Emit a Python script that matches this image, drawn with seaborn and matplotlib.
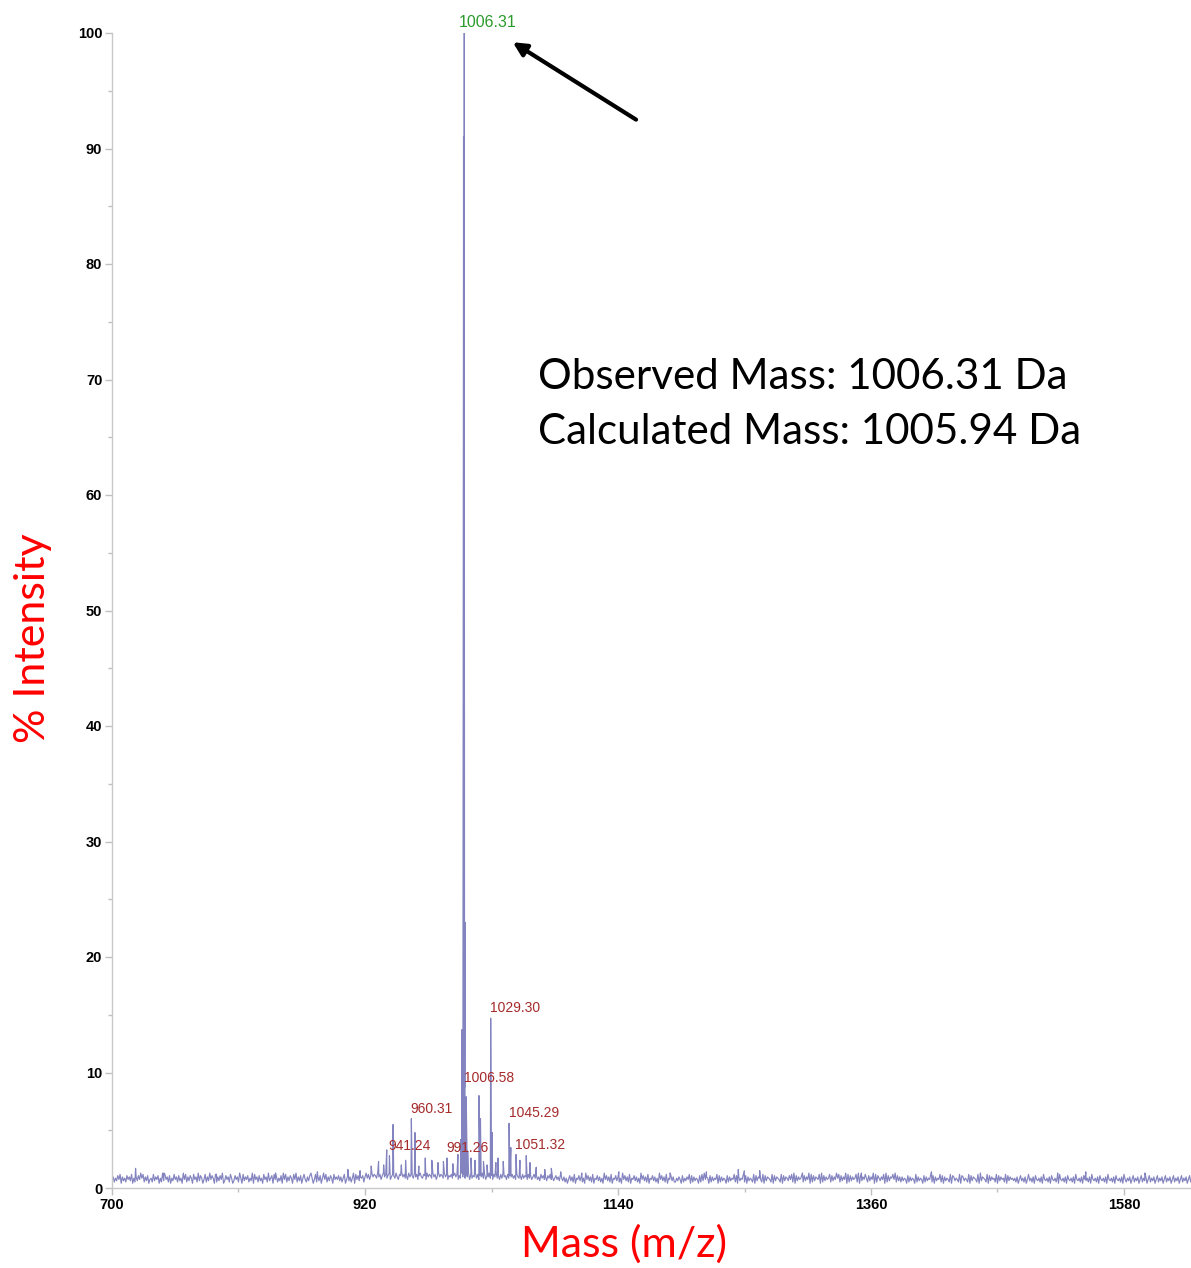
import numpy as np
import pandas as pd
import matplotlib
matplotlib.use("Agg")
import matplotlib.pyplot as plt
from matplotlib.ticker import FixedLocator
import seaborn as sns

# Baseline noise of the MALDI spectrum, one digit per 1 Da starting at m/z 700
noise_rows = [
    "46253748163527463815263749582637145283647152938462715384627351948263751846293751482639475182637491",
    "37462851374629518364725391846273518462935718462537194826375184926371584263795148263715948263751846",
    "47362581473625918473657269584796875968479685794687596487968574968759684796587496875968479687596847",
    "68579684759685769485769584769584769574869574859674857685748657485764857468574638574637584635746385",
    "36251473628154736251947362815473625194736281547362519473628154736251947362815473625194736281547362",
    "25364172536481726354172839465172635481726354172635482716354827163542817365428173654281736542817365",
    "37482917364582736491827365481927364582736495827364918273645829173648527364918275364819273658492736",
    "26354172635418263541726354827163548271635428176354281763542817365428173654281736452817364528173645",
    "35261473526148352617435261843526174352618435261743526184352617435261843526174352618435261743526184",
    "25361472536147253614725361472536147253614725361472536147253614725361472536147253614725361472536147",
]
noise_start_mz = 700

# Resolved peaks (m/z, % intensity)
peak_mz = [720.5, 745.2, 790.8, 842.3, 878.6, 905.1, 915.7, 925.4, 931.8, 936.2,
           938.9, 941.24, 944.4, 951.6, 955.3, 960.31, 963.4, 966.8, 972.4, 978.1,
           983.5, 988.2, 991.26, 996.4, 1000.8, 1003.2, 1004.1, 1005.1, 1005.7, 1006.31,
           1006.45, 1006.58, 1006.9, 1007.4, 1008.0, 1009.3, 1012.2, 1015.6, 1019.1, 1020.4,
           1023.0, 1026.1, 1029.30, 1030.6, 1033.8, 1035.7, 1040.2, 1045.29, 1046.8, 1051.32,
           1054.7, 1060.2, 1063.5, 1068.9, 1076.3, 1082.0, 1090.2, 1108.5, 1140.7, 1185.3,
           1216.9, 1244.6, 1249.8, 1263.2, 1300.4, 1351.7, 1412.6, 1455.1, 1522.3, 1546.8,
           1598.2]
peak_int = [1.7, 1.3, 1.2, 1.3, 1.4, 1.6, 1.5, 1.9, 2.3, 2.0,
            3.3, 2.8, 5.5, 2.0, 2.4, 6.0, 4.8, 1.9, 2.6, 2.4,
            2.2, 2.3, 2.6, 2.1, 2.9, 4.2, 13.7, 4.5, 91.0, 100.0,
            61.0, 8.7, 23.0, 6.0, 7.9, 3.2, 2.6, 2.4, 8.0, 6.0,
            2.3, 2.0, 14.7, 4.8, 2.2, 2.6, 2.3, 5.6, 3.5, 2.9,
            2.4, 2.8, 2.2, 1.8, 1.6, 1.7, 1.4, 1.3, 1.4, 1.3,
            1.4, 1.6, 1.5, 1.5, 1.3, 1.3, 1.4, 1.3, 1.3, 1.4,
            1.3]

# Annotated peaks
label_mz = [941.24, 960.31, 991.26, 1006.58, 1029.30, 1045.29, 1051.32]
base_peak_mz = 1006.31

x_ticks = [700, 920, 1140, 1360, 1580]
y_ticks = [0, 10, 20, 30, 40, 50, 60, 70, 80, 90, 100]

# ---- assemble the profile trace ----
levels = np.array([int(c) for c in "".join(noise_rows)])
noise_mz = noise_start_mz + np.arange(len(levels))
noise_int = 0.3 + 0.11 * levels
spec = pd.DataFrame({
    "mz": np.concatenate([noise_mz, peak_mz]),
    "intensity": np.concatenate([noise_int, peak_int]),
}).sort_values("mz")
peak_lookup = dict(zip(peak_mz, peak_int))

W, H = 1191, 1268
fig = plt.figure(figsize=(W / 100, H / 100), dpi=100)
ax = fig.add_axes([112 / W, 1 - 1188 / H, 1 - 112 / W, (1188 - 33) / H])

sns.lineplot(data=spec, x="mz", y="intensity", ax=ax, estimator=None, sort=True,
             color="#6464b0", linewidth=0.85, alpha=0.8)

ax.set_xlim(700, 700 + (W - 112) / 1.15)
ax.set_ylim(0, 100)
ax.set_xlabel("")
ax.set_ylabel("")

for side in ("top", "right"):
    ax.spines[side].set_visible(False)
for side in ("left", "bottom"):
    ax.spines[side].set_color("#c8c8c8")
    ax.spines[side].set_linewidth(1.0)

ax.xaxis.set_major_locator(FixedLocator(x_ticks))
ax.xaxis.set_minor_locator(FixedLocator([810, 1030, 1250, 1470]))
ax.yaxis.set_major_locator(FixedLocator(y_ticks))
ax.yaxis.set_minor_locator(FixedLocator(list(range(5, 100, 10))))
ax.tick_params(which="both", direction="out", color="#c0c0c0", width=1)
ax.tick_params(which="major", length=5, labelsize=10.5, pad=2)
ax.tick_params(which="minor", length=3)
for lab in ax.get_xticklabels() + ax.get_yticklabels():
    lab.set_fontweight("bold")
    lab.set_fontfamily("Liberation Sans")

# peak labels
for mz in label_mz:
    ax.text(mz - 0.5, peak_lookup[mz] + 0.25, f"{mz:.2f}", ha="left", va="bottom",
            fontsize=10, color="#a52a2a", family="Liberation Sans")
ax.text(base_peak_mz - 4.5, peak_lookup[base_peak_mz] + 0.3, f"{base_peak_mz:.2f}",
        ha="left", va="bottom", fontsize=11.5, color="#2a9a2a", family="Liberation Sans",
        clip_on=False)

# arrow pointing at the base peak
ax.annotate("", xy=(1048.5, 99.2), xytext=(1155.7, 92.5),
            arrowprops=dict(arrowstyle="-|>,head_length=0.8,head_width=0.4",
                            color="black", lw=3, shrinkA=0, shrinkB=0))

big_font = "Lato"
fig.text(538 / W, 1 - 377 / H, f"Observed Mass: {base_peak_mz:.2f} Da", ha="left",
         va="center", fontsize=30.3, family=big_font, color="black")
fig.text(538 / W, 1 - 432 / H, "Calculated Mass: 1005.94 Da", ha="left",
         va="center", fontsize=30.3, family=big_font, color="black")

fig.text(33 / W, 1 - 638 / H, "% Intensity", rotation=90, ha="center", va="center",
         fontsize=31, family=big_font, color="#ff0000")
fig.text(624 / W, 1 - 1244 / H, "Mass (m/z)", ha="center", va="center",
         fontsize=31, family=big_font, color="#ff0000")

fig.savefig("out.png", dpi=100, facecolor="white")
